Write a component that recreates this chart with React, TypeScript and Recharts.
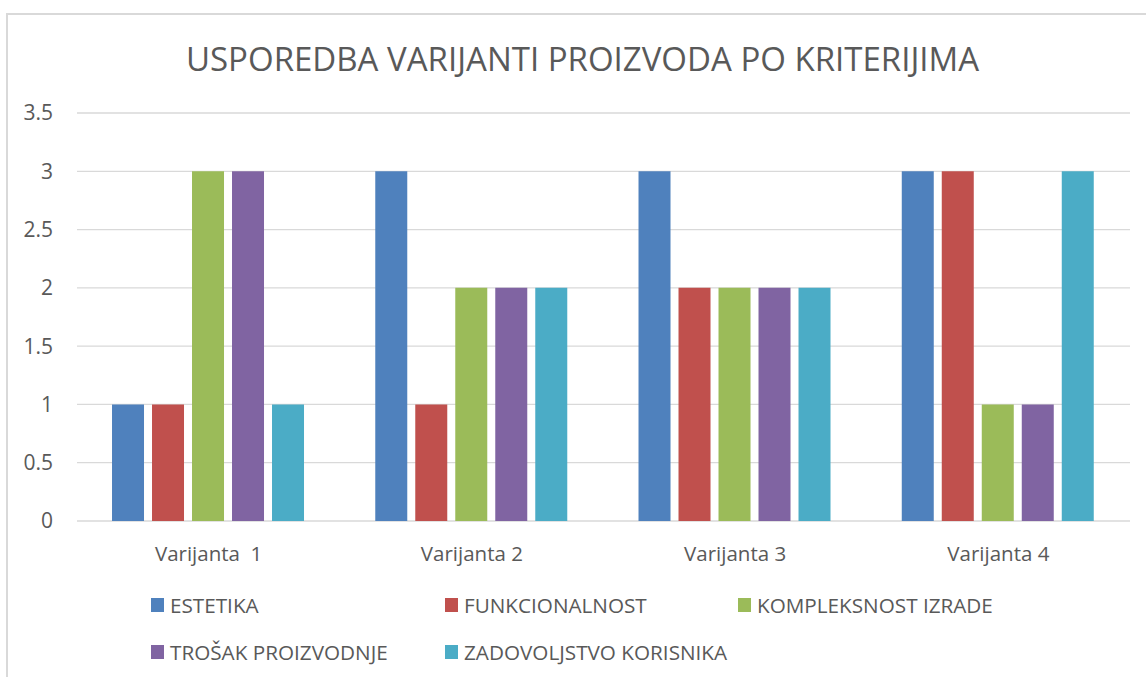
import { BarChart, Bar, XAxis, YAxis, CartesianGrid } from "recharts";

const CATEGORIES = ["Varijanta \u00a01", "Varijanta 2", "Varijanta 3", "Varijanta 4"];
const ESTETIKA = [1, 3, 3, 3];
const FUNKCIONALNOST = [1, 1, 2, 3];
const KOMPLEKSNOST = [3, 2, 2, 1];
const TROSAK = [3, 2, 2, 1];
const ZADOVOLJSTVO = [1, 2, 2, 3];
const Y_TICKS = [0, 0.5, 1, 1.5, 2, 2.5, 3, 3.5];

const SERIES = [
  { key: "estetika", name: "ESTETIKA", values: ESTETIKA, color: "#4F81BD" },
  { key: "funkcionalnost", name: "FUNKCIONALNOST", values: FUNKCIONALNOST, color: "#C0504D" },
  { key: "kompleksnost", name: "KOMPLEKSNOST IZRADE", values: KOMPLEKSNOST, color: "#9BBB59" },
  { key: "trosak", name: "TROŠAK PROIZVODNJE", values: TROSAK, color: "#8064A2" },
  { key: "zadovoljstvo", name: "ZADOVOLJSTVO KORISNIKA", values: ZADOVOLJSTVO, color: "#4BACC6" },
];

const data = CATEGORIES.map((name, i) => {
  const row: Record<string, string | number> = { name };
  SERIES.forEach(s => { row[s.key] = s.values[i]; });
  return row;
});

const TEXT = "#595959";
const FONT = "'Open Sans', Lato, sans-serif";
// legend grid: 3 columns, 2 rows like the Excel original
const LEGEND_COLS = [151, 445, 738];
const LEGEND_ROWS = [605, 652];

export default function App() {
  return (
    <div style={{ position: "fixed", left: 0, top: 0, width: 1146, height: 677, overflow: "hidden", background: "#fff", fontFamily: FONT }}>
      <div style={{ position: "absolute", left: 0, width: 1165, top: 37, textAlign: "center", fontSize: 33, color: TEXT, lineHeight: "44px", whiteSpace: "nowrap" }}>
        USPOREDBA VARIJANTI PROIZVODA PO KRITERIJIMA
      </div>
      <div style={{ position: "absolute", left: 0, top: 0 }}>
        <BarChart width={1146} height={677} data={data} margin={{ top: 113, right: 16, bottom: 126, left: 0 }}
          barCategoryGap="13.3%" barGap={8}>
          <CartesianGrid vertical={false} stroke="#D9D9D9" strokeWidth={1.3} />
          <XAxis dataKey="name" axisLine={false} tickLine={false} tickSize={0} tickMargin={25}
            tick={{ fontSize: 20.5, fill: TEXT, fontFamily: FONT }} interval={0} />
          <YAxis domain={[0, 3.5]} ticks={Y_TICKS} width={77} axisLine={false} tickLine={false} tickSize={0} tickMargin={24}
            tick={{ fontSize: 21, fill: TEXT, fontFamily: FONT }} interval={0} />
          {SERIES.map(s => (
            <Bar key={s.key} dataKey={s.key} name={s.name} fill={s.color} isAnimationActive={false} />
          ))}
        </BarChart>
      </div>
      {SERIES.map((s, i) => (
        <div key={s.key} style={{ position: "absolute", left: LEGEND_COLS[i % 3], top: LEGEND_ROWS[Math.floor(i / 3)] - 14, height: 28, display: "flex", alignItems: "center", fontSize: 20.7, color: TEXT, whiteSpace: "nowrap" }}>
          <span style={{ display: "inline-block", width: 13, height: 14, background: s.color, marginRight: 6 }} />
          {s.name}
        </div>
      ))}
      <div style={{ position: "absolute", left: 6, top: 13, width: 1300, height: 1.5, background: "#D9D9D9" }} />
      <div style={{ position: "absolute", left: 6, top: 13, width: 1.5, height: 800, background: "#D9D9D9" }} />
    </div>
  );
}
